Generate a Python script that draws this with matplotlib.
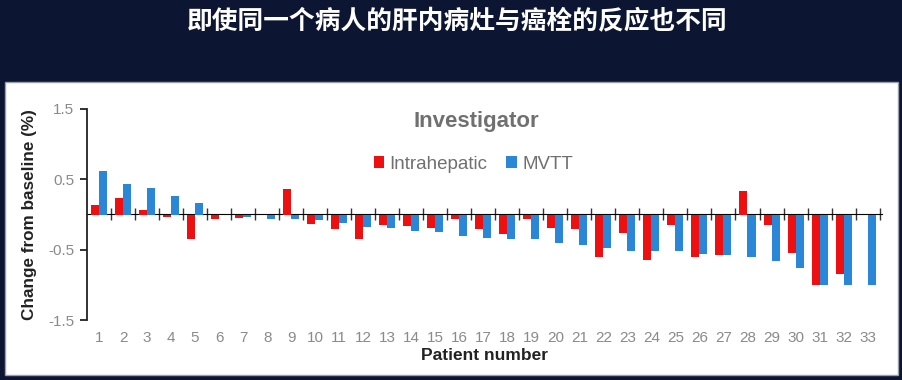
import numpy as np
import matplotlib
matplotlib.use("Agg")
import matplotlib.pyplot as plt
from matplotlib.patches import Rectangle

"================================================================="
# Data

patients = list(range(1, 34))
intrahepatic = [0.14, 0.23, 0.07, -0.04, -0.35, -0.07, -0.05, 0.0, 0.36, -0.14,
                -0.21, -0.35, -0.15, -0.17, -0.19, -0.07, -0.20, -0.28, -0.06, -0.19,
                -0.21, -0.61, -0.26, -0.64, -0.15, -0.61, -0.57, 0.33, -0.15, -0.55,
                -1.0, -0.85, 0.0]
mvtt = [0.62, 0.43, 0.38, 0.26, 0.17, 0.0, -0.04, -0.07, -0.07, -0.085,
        -0.12, -0.18, -0.19, -0.24, -0.25, -0.30, -0.33, -0.35, -0.35, -0.40,
        -0.44, -0.47, -0.52, -0.52, -0.52, -0.56, -0.58, -0.61, -0.66, -0.76,
        -1.0, -1.0, -1.0]
y_ticks = [1.5, 0.5, -0.5, -1.5]

"================================================================="
# Figure and panel

plt.rcParams['font.family'] = ['Liberation Sans', 'DejaVu Sans']

fig = plt.figure(figsize=(9.02, 3.8), dpi=100, facecolor="#0c1531")
fig.patches.append(Rectangle((5 / 902, 1 - 375 / 380), 893 / 902, 293 / 380,
                             transform=fig.transFigure, facecolor="white",
                             edgecolor="#9aa0aa", linewidth=1, zorder=-10))
fig.text(457 / 902, 1 - 22 / 380, "即使同一个病人的肝内病灶与癌栓的反应也不同",
         color="white", fontsize=18.5, fontweight="bold", ha="center", va="center",
         family=['Noto Sans CJK SC', 'DejaVu Sans'])

ax = fig.add_axes([87 / 902, 1 - 320 / 380, 795 / 902, 211 / 380])
ax.set_facecolor("none")
ax.set_zorder(5)

x = np.array(patients)
w = 1 / 3
ax.bar(x - w / 2, intrahepatic, width=w, color="#ee1010", label="Intrahepatic", zorder=2)
ax.bar(x + w / 2, mvtt, width=w, color="#2a86d6", label="MVTT", zorder=2)

ax.set_xlim(0.5, 33.6)
ax.set_ylim(-1.5, 1.5)

# axes look
for s in ["top", "right", "bottom"]:
    ax.spines[s].set_visible(False)
ax.spines["left"].set_color("#222222")
ax.spines["left"].set_linewidth(1.3)
ax.set_yticks(y_ticks)
ax.set_yticklabels([str(v) for v in y_ticks])
ax.tick_params(axis="y", length=5, width=1.3, color="#222222", labelcolor="#8a8a8a",
               labelsize=11, pad=4)
ax.set_xticks(patients)
ax.set_xticklabels([str(p) for p in patients])
ax.tick_params(axis="x", length=0, labelcolor="#8a8a8a", labelsize=11, pad=8)

# zero line with ticks between patients
sec = ax.secondary_xaxis(0.5)
sec.spines["bottom"].set_color("#333333")
sec.spines["bottom"].set_linewidth(1.0)
sec.set_xticks(np.arange(1.5, 34, 1.0))
sec.set_xticklabels([])
sec.tick_params(axis="x", direction="inout", length=8, width=1.0, color="#333333")

ax.set_ylabel("Change from baseline (%)", fontsize=12.3, fontweight="bold", color="#222222",
              labelpad=8)
ax.set_xlabel("Patient number", fontsize=12.5, fontweight="bold", color="#222222", labelpad=2)

ax.text(0.49, 0.943, "Investigator", transform=ax.transAxes, ha="center", va="center",
        fontsize=16, fontweight="bold", color="#707070")
ax.legend(loc="center", bbox_to_anchor=(0.486, 0.739), ncol=2, frameon=False,
          fontsize=13.5, handlelength=0.55, handleheight=0.55, handletextpad=0.3,
          columnspacing=1.0, labelcolor="#707070")

fig.savefig("out.png", dpi=100, facecolor=fig.get_facecolor())
